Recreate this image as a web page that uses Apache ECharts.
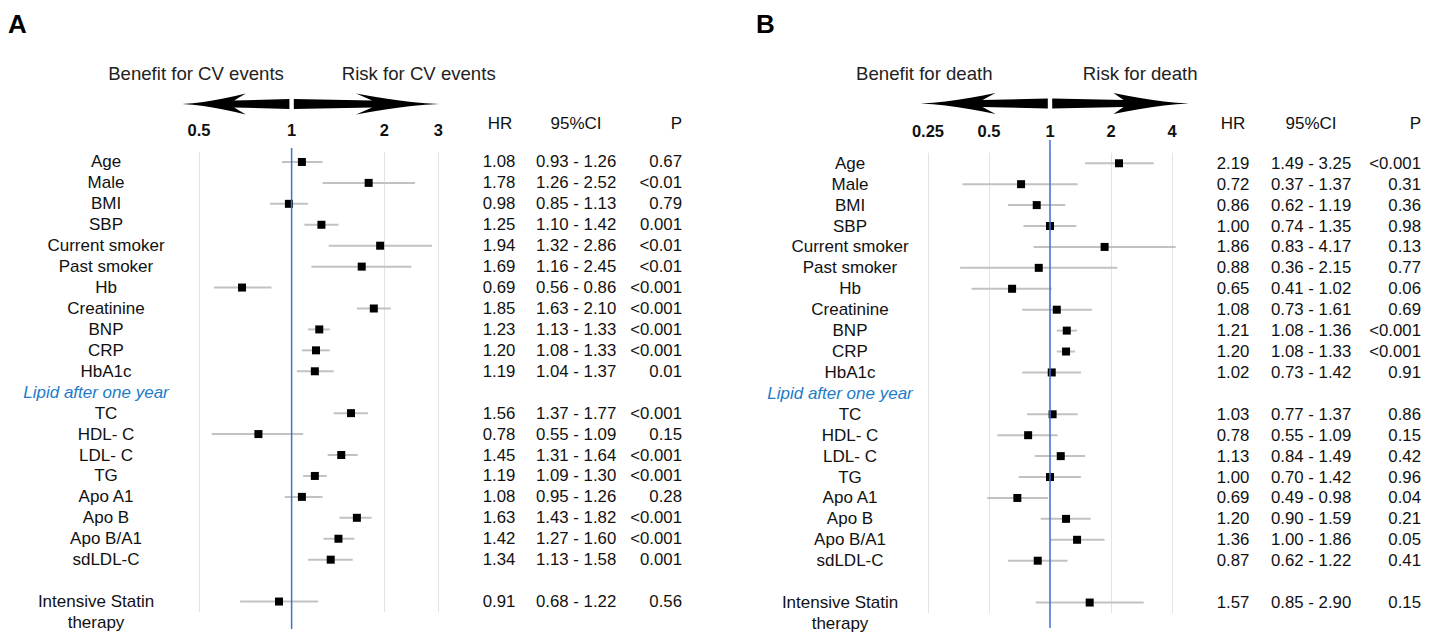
<!DOCTYPE html>
<html><head><meta charset="utf-8">
<script src="https://cdn.jsdelivr.net/npm/echarts@6/dist/echarts.min.js"></script>
<style>html,body{margin:0;padding:0;background:#fff}#c{width:1440px;height:637px}</style>
</head><body><div id="c"></div>
<script>
// ---------------- DATA ----------------
const rowLabels = ['Age','Male','BMI','SBP','Current smoker','Past smoker','Hb','Creatinine','BNP','CRP','HbA1c',
  'Lipid after one year','TC','HDL- C','LDL- C','TG','Apo A1','Apo B','Apo B/A1','sdLDL-C','','Intensive Statin\ntherapy'];
const sectionLabel = 'Lipid after one year';

// Panel A: CV events
const hrA = [1.08,1.78,0.98,1.25,1.94,1.69,0.69,1.85,1.23,1.20,1.19,null,1.56,0.78,1.45,1.19,1.08,1.63,1.42,1.34,null,0.91];
const loA = [0.93,1.26,0.85,1.10,1.32,1.16,0.56,1.63,1.13,1.08,1.04,null,1.37,0.55,1.31,1.09,0.95,1.43,1.27,1.13,null,0.68];
const hiA = [1.26,2.52,1.13,1.42,2.86,2.45,0.86,2.10,1.33,1.33,1.37,null,1.77,1.09,1.64,1.30,1.26,1.82,1.60,1.58,null,1.22];
const pA  = ['0.67','<0.01','0.79','0.001','<0.01','<0.01','<0.001','<0.001','<0.001','<0.001','0.01','',
  '<0.001','0.15','<0.001','<0.001','0.28','<0.001','<0.001','0.001','','0.56'];

// Panel B: death
const hrB = [2.19,0.72,0.86,1.00,1.86,0.88,0.65,1.08,1.21,1.20,1.02,null,1.03,0.78,1.13,1.00,0.69,1.20,1.36,0.87,null,1.57];
const loB = [1.49,0.37,0.62,0.74,0.83,0.36,0.41,0.73,1.08,1.08,0.73,null,0.77,0.55,0.84,0.70,0.49,0.90,1.00,0.62,null,0.85];
const hiB = [3.25,1.37,1.19,1.35,4.17,2.15,1.02,1.61,1.36,1.33,1.42,null,1.37,1.09,1.49,1.42,0.98,1.59,1.86,1.22,null,2.90];
const pB  = ['<0.001','0.31','0.36','0.98','0.13','0.77','0.06','0.69','<0.001','<0.001','0.91','',
  '0.86','0.15','0.42','0.96','0.04','0.21','0.05','0.41','','0.15'];

const axisRangeA = [0.5, 3];
const axisRangeB = [0.25, 4];
const panelLetters = ['A','B'];
const directionA = ['Benefit for CV events','Risk for CV events'];
const directionB = ['Benefit for death','Risk for death'];
const colHeads = ['HR','95%CI','P'];

// ---------------- STYLE / LAYOUT ----------------
const FONT = '"Liberation Sans", Arial, Helvetica, sans-serif';
const TXT = '#111';
const panels = [
  {hr:hrA, lo:loA, hi:hiA, p:pA, range:axisRangeA, dir:directionA, letter:panelLetters[0],
   grid:{left:199, top:151.5, width:239.4, height:460.5},
   labelMargin:93, hrM:60.6, ciM:97.6, pM:243.6,
   headX:[500,576,682], headY:123.3, dirX:[196,418.7], letterX:8,
   blue:[148,629], arrowY:104, arrow:{L:{j:57.5,b:45.8,t:109.5}, R:{j:80.5,b:64.5,t:147.5}}},
  {hr:hrB, lo:loB, hi:hiB, p:pB, range:axisRangeB, dir:directionB, letter:panelLetters[1],
   grid:{left:928, top:152.8, width:244, height:460.2},
   labelMargin:78, hrM:61, ciM:99, pM:249,
   headX:[1233,1311,1421], headY:123.3, dirX:[924.3,1140.2], letterX:756,
   blue:[140,628], arrowY:103.5, arrow:{L:{j:67.5,b:54.5,t:129.5}, R:{j:73.5,b:63.5,t:139}}}
];

const fmt2 = v => v == null ? '' : v.toFixed(2);

const option = {
  animation:false,
  backgroundColor:'#fff',
  textStyle:{fontFamily:FONT},
  grid:[], xAxis:[], yAxis:[], series:[]
};

panels.forEach((P, g) => {
  option.grid.push(Object.assign({containLabel:false}, P.grid));
  option.xAxis.push({
    gridIndex:g, type:'log', logBase:2, min:P.range[0], max:P.range[1], position:'top',
    axisLine:{show:false}, axisTick:{show:false},
    splitLine:{show:true, lineStyle:{color:'#e3e3e3', width:1}},
    axisLabel:{fontWeight:'bold', fontSize:16.5, color:'#111', fontFamily:FONT, margin:13}
  });
  const base = g * 4;
  // left row labels
  option.yAxis.push({
    gridIndex:g, type:'category', inverse:true, data:rowLabels,
    axisLine:{show:false}, axisTick:{show:false}, splitLine:{show:false},
    axisLabel:{
      interval:0, align:'center', margin:P.labelMargin, fontSize:17, color:TXT, fontFamily:FONT, lineHeight:21.3,
      formatter: v => {
        if (v === sectionLabel) return '{h|' + v + '}';
        if (v.indexOf('\n') >= 0) return '\n' + v.split('\n').map(s => '{s|' + s + '}').join('\n');
        return v;
      },
      rich:{
        h:{color:'#1E7CC8', fontStyle:'italic', fontSize:17, fontFamily:FONT, padding:[0,20,0,0]},
        s:{color:TXT, fontSize:17, fontFamily:FONT, lineHeight:21.3, padding:[0,20,0,0]}
      }
    }
  });
  const colAxis = (data, align, margin) => ({
    gridIndex:g, type:'category', inverse:true, position:'right', offset:0, data:data,
    axisLine:{show:false}, axisTick:{show:false}, splitLine:{show:false},
    axisLabel:{interval:0, align:align, margin:margin, fontSize:16.8, color:TXT, fontFamily:FONT}
  });
  option.yAxis.push(colAxis(P.hr.map(fmt2), 'center', P.hrM));
  option.yAxis.push(colAxis(P.lo.map((v,i) => v == null ? '' : fmt2(v) + ' - ' + fmt2(P.hi[i])), 'left', P.ciM));
  option.yAxis.push(colAxis(P.p, 'right', P.pM));

  const ciData = [], ptData = [];
  P.hr.forEach((v, i) => {
    if (v == null) return;
    ciData.push([P.lo[i], P.hi[i], i]);
    ptData.push([v, i]);
  });
  option.series.push({
    type:'custom', xAxisIndex:g, yAxisIndex:base, clip:false, z:2,
    encode:{x:[0,1], y:2}, data:ciData,
    renderItem:(params, api) => {
      const r = api.value(2);
      const a = api.coord([api.value(0), r]);
      const b = api.coord([api.value(1), r]);
      return {type:'line', shape:{x1:a[0], y1:a[1], x2:b[0], y2:b[1]},
        style:{stroke:'#c2c2c2', lineWidth:2}};
    }
  });
  option.series.push({
    type:'scatter', xAxisIndex:g, yAxisIndex:base, z:4, data:ptData,
    symbol:'rect', symbolSize:8, itemStyle:{color:'#000', opacity:1}, silent:true
  });
});

const chart = echarts.init(document.getElementById('c'), null, {renderer:'svg', width:1440, height:637});
chart.setOption(option);

// -------- annotations (arrows, reference line, headers) --------
function halfArrow(cx, cy, dir, a) {
  const start = 2.2, sc = 5, sj = 3.4, bh = 10.5;
  const pts = [];
  const X = u => cx + dir * u;
  pts.push([X(start), cy - sc]);
  pts.push([X(a.j), cy - sj]);
  pts.push([X(a.b), cy - bh]);
  const steps = 6;
  for (let k = 1; k < steps; k++) {
    const t = k / steps;
    pts.push([X(a.b + (a.t - a.b) * t), cy - bh * Math.pow(1 - t, 1.5)]);
  }
  pts.push([X(a.t), cy]);
  for (let k = steps - 1; k >= 1; k--) {
    const t = k / steps;
    pts.push([X(a.b + (a.t - a.b) * t), cy + bh * Math.pow(1 - t, 1.5)]);
  }
  pts.push([X(a.b), cy + bh]);
  pts.push([X(a.j), cy + sj]);
  pts.push([X(start), cy + sc]);
  return {type:'polygon', shape:{points:pts}, style:{fill:'#000'}, silent:true};
}

const graphics = [];
panels.forEach((P, g) => {
  const cx = chart.convertToPixel({xAxisIndex:g}, 1);
  graphics.push({type:'line', shape:{x1:cx, y1:P.blue[0], x2:cx, y2:P.blue[1]},
    style:{stroke:'#3F6FD0', lineWidth:1.5}, z:10, silent:true});
  graphics.push(halfArrow(cx, P.arrowY, -1, P.arrow.L));
  graphics.push(halfArrow(cx, P.arrowY, 1, P.arrow.R));
  graphics.push({type:'text', x:P.letterX, y:24, style:{text:P.letter, font:'bold 26px ' + FONT, fill:'#000', textAlign:'left', textVerticalAlign:'middle'}});
  P.dir.forEach((t, k) => graphics.push({type:'text', x:P.dirX[k], y:73.5,
    style:{text:t, font:'18.6px ' + FONT, fill:'#222', textAlign:'center', textVerticalAlign:'middle'}}));
  colHeads.forEach((t, k) => graphics.push({type:'text', x:P.headX[k], y:P.headY,
    style:{text:t, font:'17px ' + FONT, fill:TXT, textAlign:k === 2 ? 'right' : 'center', textVerticalAlign:'middle'}}));
});
chart.setOption({graphic:graphics});
</script>
</body></html>
